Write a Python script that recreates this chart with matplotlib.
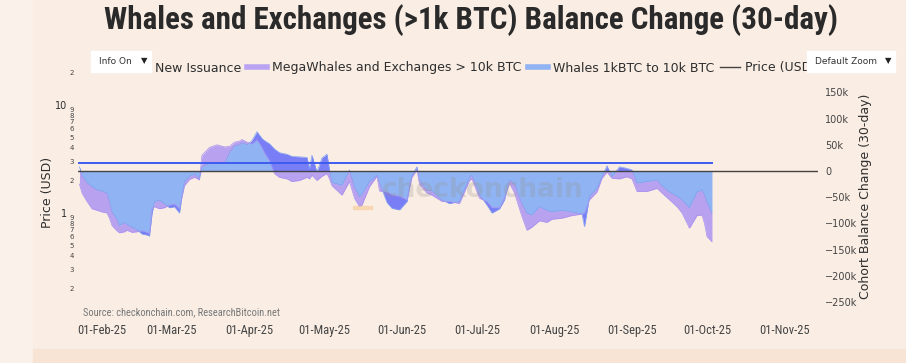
import numpy as np
import pandas as pd
import matplotlib
matplotlib.use('Agg')
import matplotlib.pyplot as plt
from matplotlib import font_manager
from matplotlib.font_manager import FontProperties
from matplotlib.lines import Line2D
from matplotlib.patches import Rectangle
from matplotlib.ticker import FixedLocator, FixedFormatter, FuncFormatter


def pick_font(names):
    for n in names:
        try:
            font_manager.findfont(FontProperties(family=n), fallback_to_default=False)
            return n
        except Exception:
            pass
    return None


narrow = pick_font(['Liberation Sans Narrow', 'Roboto Condensed', 'Open Sans Condensed'])
is_narrow = narrow is not None
if narrow is None:
    narrow = 'DejaVu Sans'

############ data (values in thousands of BTC) ##############
dates = ['2025-01-23', '2025-01-24', '2025-01-26', '2025-01-28', '2025-01-30',
         '2025-02-01', '2025-02-03', '2025-02-04', '2025-02-05', '2025-02-07',
         '2025-02-08', '2025-02-10', '2025-02-11', '2025-02-13', '2025-02-15',
         '2025-02-17', '2025-02-19', '2025-02-20', '2025-02-21', '2025-02-22',
         '2025-02-24', '2025-02-26', '2025-02-28', '2025-03-02', '2025-03-04',
         '2025-03-05', '2025-03-06', '2025-03-08', '2025-03-10', '2025-03-12',
         '2025-03-13', '2025-03-16', '2025-03-19', '2025-03-22', '2025-03-24',
         '2025-03-26', '2025-03-28', '2025-03-29', '2025-03-31', '2025-04-02',
         '2025-04-04', '2025-04-06', '2025-04-07', '2025-04-09', '2025-04-11',
         '2025-04-13', '2025-04-16', '2025-04-18', '2025-04-21', '2025-04-24',
         '2025-04-25', '2025-04-26', '2025-04-28', '2025-04-30', '2025-05-02',
         '2025-05-03', '2025-05-04', '2025-05-08', '2025-05-11', '2025-05-13',
         '2025-05-15', '2025-05-16', '2025-05-19', '2025-05-22', '2025-05-23',
         '2025-05-26', '2025-05-28', '2025-05-31', '2025-06-03', '2025-06-05',
         '2025-06-07', '2025-06-08', '2025-06-11', '2025-06-13', '2025-06-17',
         '2025-06-20', '2025-06-24', '2025-06-28', '2025-06-29', '2025-07-02',
         '2025-07-05', '2025-07-07', '2025-07-10', '2025-07-12', '2025-07-14',
         '2025-07-16', '2025-07-19', '2025-07-21', '2025-07-23', '2025-07-26',
         '2025-07-29', '2025-07-31', '2025-08-04', '2025-08-08', '2025-08-12',
         '2025-08-13', '2025-08-15', '2025-08-18', '2025-08-20', '2025-08-22',
         '2025-08-24', '2025-08-27', '2025-08-30', '2025-09-01', '2025-09-03',
         '2025-09-07', '2025-09-11', '2025-09-13', '2025-09-16', '2025-09-19',
         '2025-09-21', '2025-09-24', '2025-09-27', '2025-09-29', '2025-09-30',
         '2025-10-01', '2025-10-03']

whales = [8, -8, -22, -30, -36,
          -38, -42, -58, -78, -92,
          -104, -98, -102, -107, -112,
          -120, -122, -124, -82, -58,
          -56, -62, -70, -68, -80,
          -48, -20, -10, -6, -14,
          8, 15, 17, 14, 35,
          48, 50, 54, 50, 58,
          75, 62, 58, 52, 42,
          35, 32, 28, 27, 26,
          5, 30, -2, 25, 32,
          2, -22, -27, 2, -30,
          -49, -44, -20, -8, -22,
          -60, -71, -74, -58, -8,
          8, -18, -36, -38, -55,
          -62, -58, -12, -8, -45,
          -65, -80, -72, -55, -17,
          -25, -62, -80, -84, -68,
          -75, -78, -75, -78, -82,
          -106, -49, -33, -11, 10,
          -11, 8, 5, 2, -23,
          -20, -17, -28, -40, -48,
          -55, -70, -40, -36, -45,
          -60, -80]

megawhales = [-33, -34, -36, -42, -39,
              -40, -38, -32, -26, -22,
              -14, -18, -11, -10, -4,
              6, 5, 4, 10, -10,
              -16, -8, 5, 5, 8,
              -2, -8, -6, -6, -3,
              22, 30, 33, 32, 12,
              7, 7, 6, 5, -6,
              -15, -17, -23, -32, -47,
              -47, -47, -48, -45, -38,
              -20, -38, -16, -35, -37,
              -17, -6, -19, -22, -22,
              -19, -21, -10, -2, -16,
              20, 26, 26, 3, -4,
              -6, -7, -6, -8, -3,
              4, -4, -6, -7, -7,
              7, 10, 2, 3, -6,
              -17, -25, -33, -23, -27,
              -23, -14, -15, -7, 0,
              26, -6, -7, -3, -12,
              -3, -23, -16, -17, -16,
              -19, -16, -14, -15, -20,
              -25, -39, -45, -48, -55,
              -65, -55]

issuance_dates = ['2025-01-23', '2025-10-03']
new_issuance = [14.5, 14.5]

x_ticks = ['2025-02-01', '2025-03-01', '2025-04-01', '2025-05-01', '2025-06-01',
           '2025-07-01', '2025-08-01', '2025-09-01', '2025-10-01', '2025-11-01']
right_ticks = [150, 100, 50, 0, -50, -100, -150, -200, -250]
price_major = [1, 10]
price_minor = [0.2, 0.3, 0.4, 0.5, 0.6, 0.7, 0.8, 0.9, 2, 3, 4, 5, 6, 7, 8, 9, 20]

t = pd.to_datetime(dates)
w = np.array(whales) * 1000.0
tot = w + np.array(megawhales) * 1000.0

############ colours ##############
BLUE = '#8fb3f3'
PURPLE = (0.345, 0.19, 1.0, 0.4)
LINE_BLUE = '#3d5cf0'
TXT = '#2e2e2e'

############# plot ##################
W_, H_ = 906, 363
fig = plt.figure(figsize=(9.06, 3.63), dpi=100, facecolor='#faf1ea')
fig.patches.append(Rectangle((33 / W_, 1 - 349 / H_), 1, 349 / H_, transform=fig.transFigure,
                             figure=fig, color='#f9ede4', zorder=-5))
fig.patches.append(Rectangle((33 / W_, 0), 1, 14 / H_, transform=fig.transFigure,
                             figure=fig, color='#f7e4d5', zorder=-5))

ax = fig.add_axes([78 / W_, 1 - 305 / H_, 740 / W_, 237 / H_])
ax.set_facecolor('none')
ax.set_yscale('log')
ax.set_ylim(0.1407, 22.0)
ax.set_xlim(pd.Timestamp('2025-01-22 10:00'), pd.Timestamp('2025-11-14 10:00'))
for s in ax.spines.values():
    s.set_visible(False)

ax.yaxis.set_major_locator(FixedLocator(price_major))
ax.yaxis.set_major_formatter(FixedFormatter([str(v) for v in price_major]))
ax.yaxis.set_minor_locator(FixedLocator(price_minor))
ax.yaxis.set_minor_formatter(FixedFormatter([('%g' % v).replace('0.', '')[0] if v < 1 else str(int(v))[0] for v in price_minor]))
ax.tick_params(axis='y', which='major', length=0, pad=8, labelsize=7, labelcolor=TXT)
ax.tick_params(axis='y', which='minor', length=0, pad=3, labelsize=5, labelcolor='#444444')

ax.set_xticks(pd.to_datetime(x_ticks))
ax.set_xticklabels([d.strftime('%d-%b-%y') for d in pd.to_datetime(x_ticks)],
                   fontfamily=narrow, fontsize=9 if is_narrow else 7.5, color='#444444')
ax.tick_params(axis='x', length=0, pad=14)

ax2 = ax.twinx()
ax2.set_ylim(-255.7e3, 196.6e3)
for s in ax2.spines.values():
    s.set_visible(False)
ax2.set_yticks([v * 1000 for v in right_ticks])
ax2.yaxis.set_major_formatter(FuncFormatter(
    lambda v, p: '0' if v == 0 else ('%dk' % round(v / 1000)).replace('-', '\u2212')))
ax2.tick_params(axis='y', length=0, pad=5, labelsize=7, labelcolor='#444444')

ax2.fill_between(t, 0, w, color=BLUE, lw=0, zorder=2)
ax2.fill_between(t, w, tot, color=PURPLE, lw=0, zorder=3)
ax2.plot(t, w, color='#7f9ff0', lw=0.5, zorder=4)
ax2.plot(t, tot, color='#a990f0', lw=0.5, zorder=4)
ax2.plot(pd.to_datetime(issuance_dates), np.array(new_issuance) * 1000, color=LINE_BLUE, lw=1.4, zorder=5)
ax2.axhline(0, color='#444444', lw=1, zorder=5)

# axis titles
fig.text(48 / W_, 1 - 192 / H_, 'Price (USD)', rotation=90, ha='center', va='center',
         fontsize=9, color=TXT)
fig.text(865 / W_, 1 - 196 / H_, 'Cohort Balance Change (30-day)', rotation=90,
         ha='center', va='center', fontsize=9, color=TXT)

# title
fig.text(471 / W_, 1 - 20 / H_, 'Whales and Exchanges (>1k BTC) Balance Change (30-day)',
         ha='center', va='center', fontsize=22.3 if is_narrow else 15, fontweight='bold',
         fontfamily=narrow, color='#2a2a2a')

# source + watermark
fig.text(83 / W_, 1 - 312 / H_, 'Source: checkonchain.com, ResearchBitcoin.net',
         ha='left', va='center', fontsize=7.5 if is_narrow else 6, fontfamily=narrow, color='#777777')
fig.text(483 / W_, 1 - 190 / H_, 'checkonchain', ha='center', va='center', fontsize=19,
         fontweight='bold', color='#9a948e', alpha=0.25, zorder=6)
fig.patches.append(Rectangle((353 / W_, 1 - 209 / H_), 19 / W_, 3 / H_, transform=fig.transFigure,
                             figure=fig, color='#f7c88f', alpha=0.5, zorder=6))

# legend
handles = [Line2D([], [], color=LINE_BLUE, lw=1.4),
           Line2D([], [], color='#b9a3f2', lw=4),
           Line2D([], [], color=BLUE, lw=4),
           Line2D([], [], color='#444444', lw=1)]
labels = ['New Issuance', 'MegaWhales and Exchanges > 10k BTC', 'Whales 1kBTC to 10k BTC', 'Price (USD)']
leg = fig.legend(handles, labels, loc='center', bbox_to_anchor=(473 / W_, 1 - 68 / H_), ncol=4,
                 frameon=False, handlelength=1.6, handletextpad=0.4, columnspacing=0.5,
                 fontsize=9)
for tx in leg.get_texts():
    tx.set_color(TXT)

# dropdown buttons
for (x0, x1, label) in [(91, 151, 'Info On'), (807, 895, 'Default Zoom')]:
    fig.patches.append(Rectangle((x0 / W_, 1 - 72 / H_), (x1 - x0) / W_, 21 / H_,
                                 transform=fig.transFigure, figure=fig, color='white', zorder=10))
    fig.text((x0 + 8) / W_, 1 - 61 / H_, label, ha='left', va='center', fontsize=6.5,
             color='#333333', zorder=11)
    fig.text((x1 - 7) / W_, 1 - 61 / H_, '\u25bc', ha='center', va='center', fontsize=6,
             color='#222222', zorder=11)

plt.savefig('out.png', dpi=100, facecolor=fig.get_facecolor())
